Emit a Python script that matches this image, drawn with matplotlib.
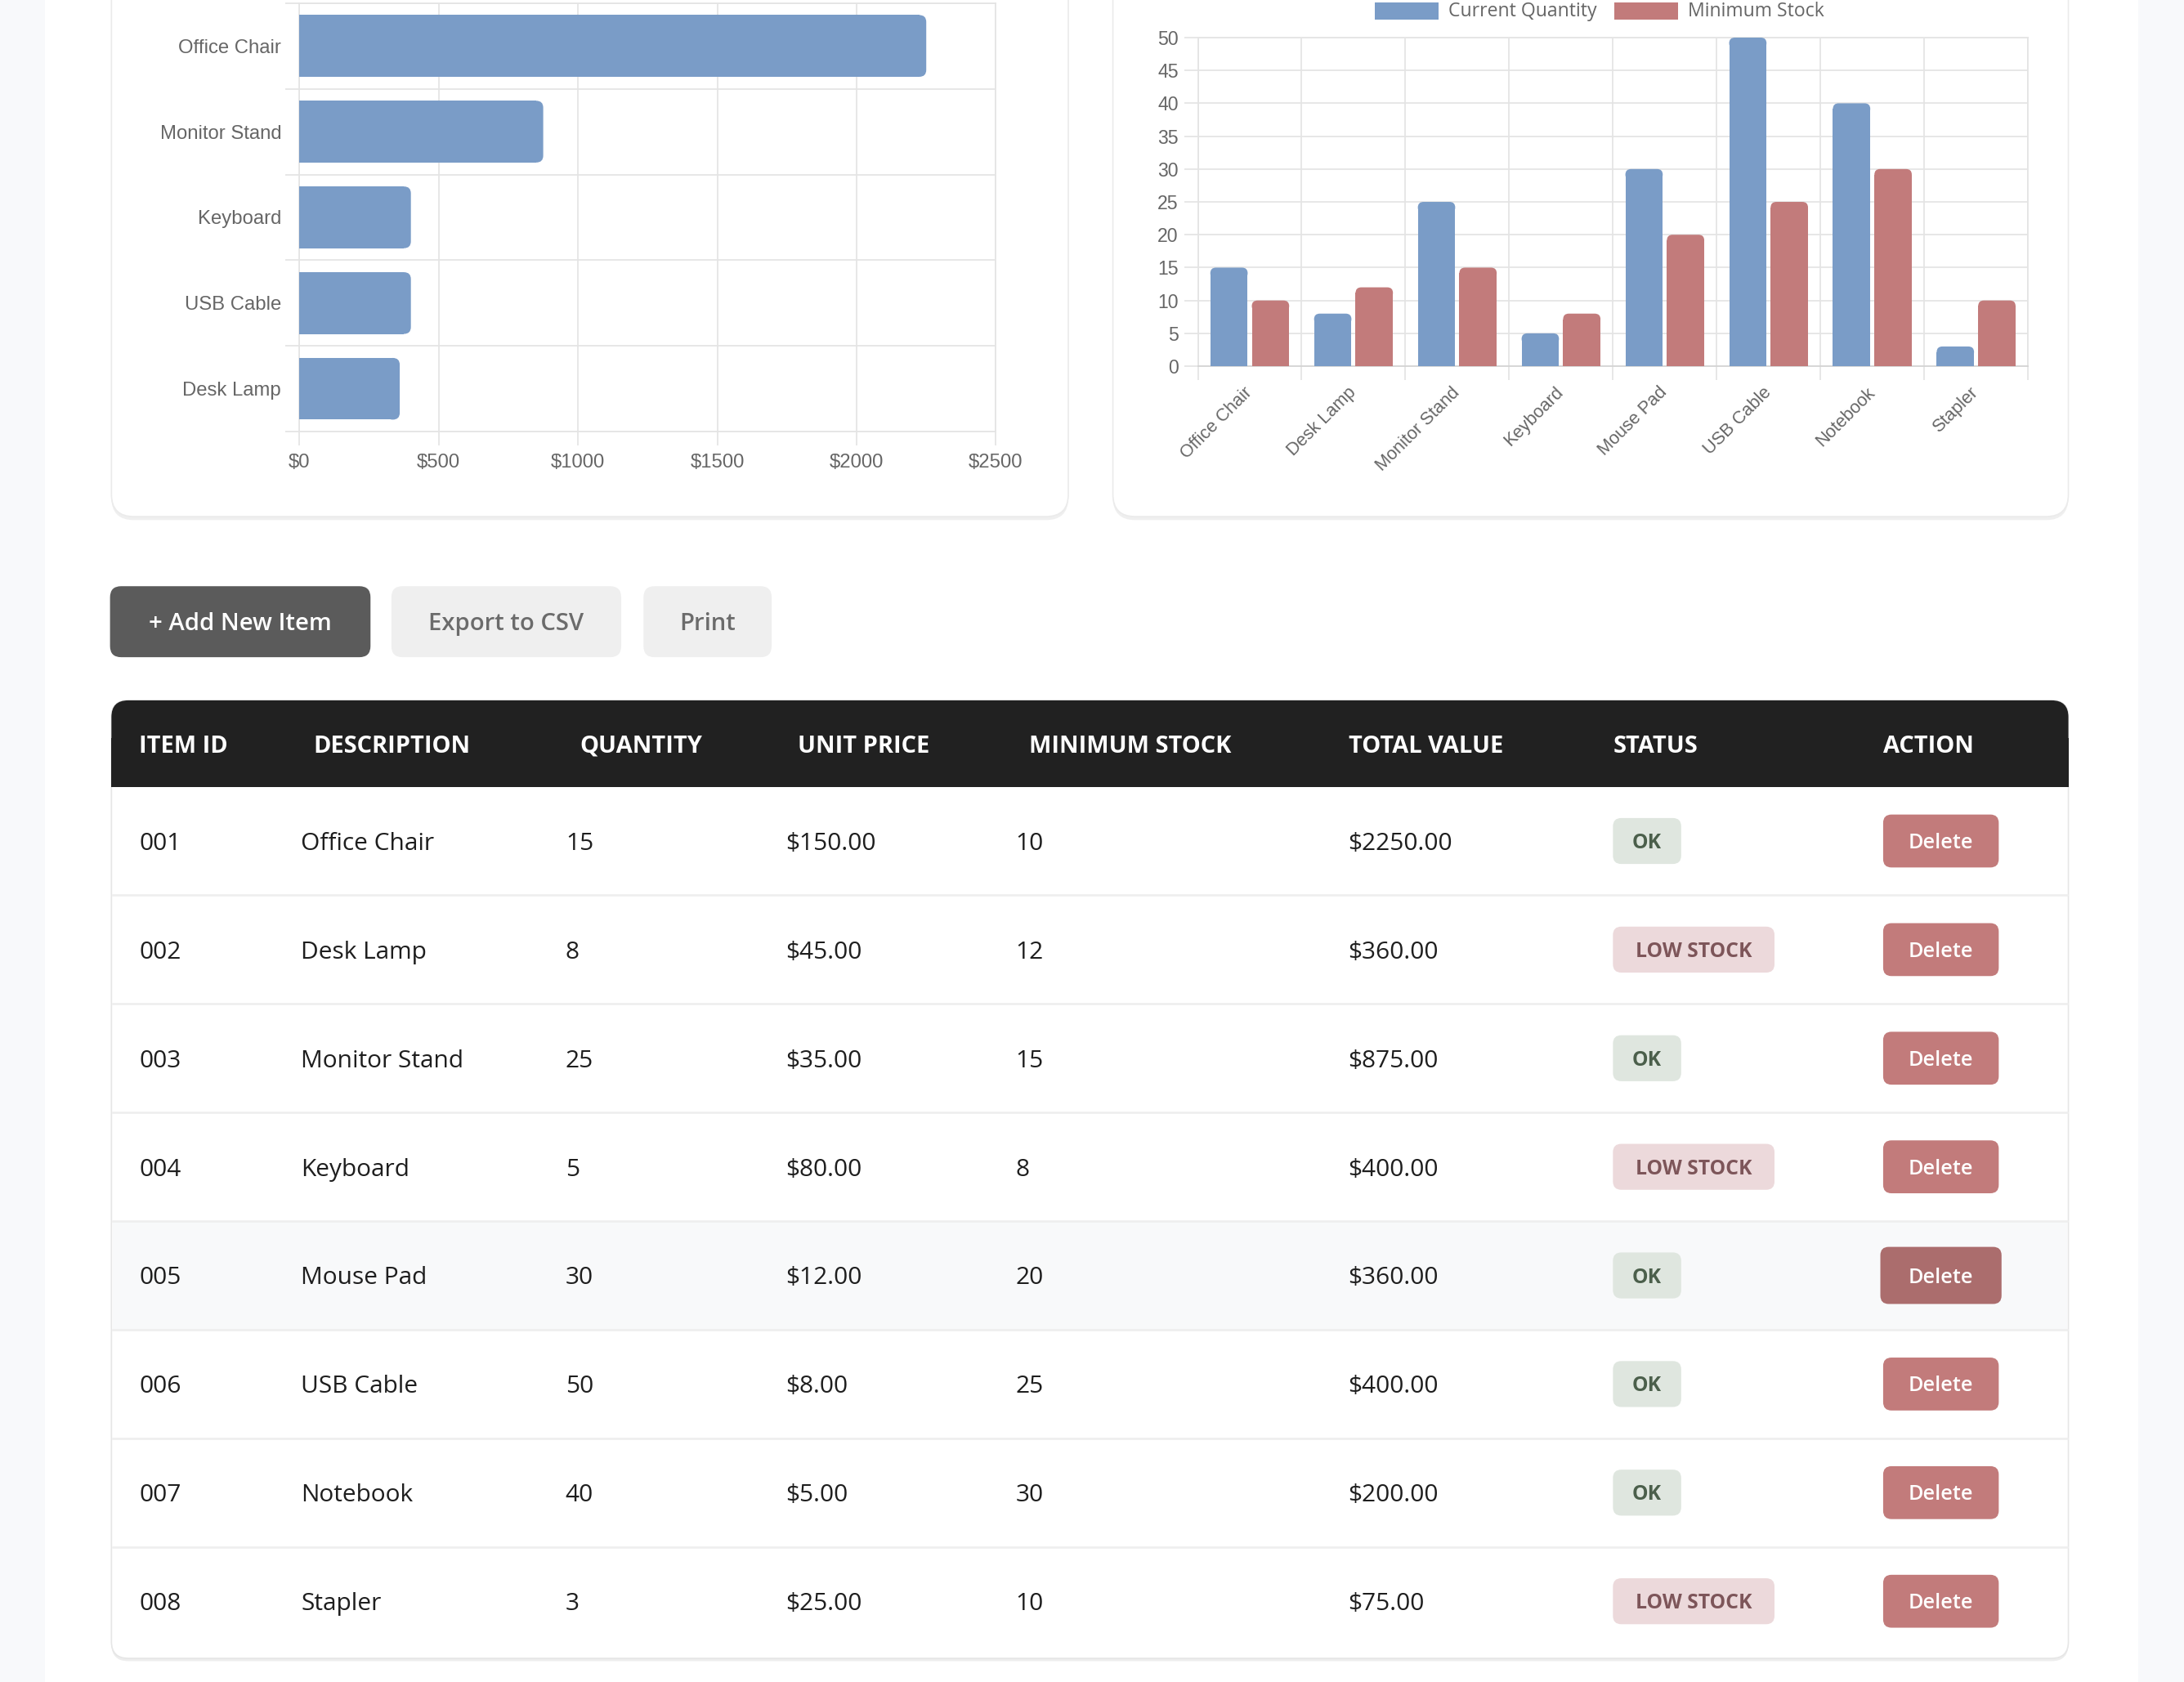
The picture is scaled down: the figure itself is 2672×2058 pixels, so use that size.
import numpy as np
import matplotlib
matplotlib.use("Agg")
import matplotlib.pyplot as plt
from matplotlib.patches import FancyBboxPatch, Rectangle

# top items by total value (horizontal chart)
top_items = ["Office Chair", "Monitor Stand", "Keyboard", "USB Cable", "Desk Lamp"]
top_values = [2250, 875, 400, 400, 360]
value_ticks = [0, 500, 1000, 1500, 2000, 2500]

# stock levels (grouped chart)
stock_items = ["Office Chair", "Desk Lamp", "Monitor Stand", "Keyboard",
               "Mouse Pad", "USB Cable", "Notebook", "Stapler"]
current_qty = [15, 8, 25, 5, 30, 50, 40, 3]
minimum_stock = [10, 12, 15, 8, 20, 25, 30, 10]
series_names = ["Current Quantity", "Minimum Stock"]

# table
headers = ["ITEM ID", "DESCRIPTION", "QUANTITY", "UNIT PRICE",
           "MINIMUM STOCK", "TOTAL VALUE", "STATUS", "ACTION"]
item_ids = ["001", "002", "003", "004", "005", "006", "007", "008"]
unit_prices = ["$150.00", "$45.00", "$35.00", "$80.00", "$12.00", "$8.00", "$5.00", "$25.00"]
total_values = ["$2250.00", "$360.00", "$875.00", "$400.00", "$360.00", "$400.00", "$200.00", "$75.00"]
statuses = ["OK", "LOW STOCK", "OK", "LOW STOCK", "OK", "OK", "OK", "LOW STOCK"]
buttons = ["+ Add New Item", "Export to CSV", "Print"]

BLUE = "#7a9cc7"
RED = "#c27b7b"
GRID = "#e4e4e4"
TICK = "#666666"
UI_FONT = ["Open Sans", "DejaVu Sans"]
CHART_FONT = ["Liberation Sans", "DejaVu Sans"]

W, H = 1568, 1208  # layout units (reference scaled down)
SCALE = 2672 / W


def pt(px):
    # layout pixels -> points at dpi 100
    return px * SCALE * 0.72


fig = plt.figure(figsize=(26.72, 20.58), dpi=100)
bg = fig.add_axes([0, 0, 1, 1])
bg.set_xlim(0, W)
bg.set_ylim(H, 0)
bg.axis("off")


def box(x0, y0, x1, y1, r, fc, ec="none", lw=0, z=1):
    p = FancyBboxPatch((x0, y0), x1 - x0, y1 - y0,
                       boxstyle=f"round,pad=0,rounding_size={r}",
                       fc=fc, ec=ec, lw=lw, zorder=z)
    bg.add_patch(p)


def axes_at(x0, y0, x1, y1):
    return fig.add_axes([x0 / W, 1 - y1 / H, (x1 - x0) / W, (y1 - y0) / H])


# page background
bg.add_patch(Rectangle((0, 0), W, H, fc="#f8f9fb", zorder=0))
bg.add_patch(Rectangle((32, 0), 1503, H, fc="white", zorder=0))

# chart cards
for x0, x1 in [(80, 767), (799, 1485)]:
    box(x0, -40, x1, 373.5, 16, "#efefef", z=1)
    box(x0, -40, x1, 371, 16, "white", ec="#ebebeb", lw=1.2, z=2)

# ---- horizontal bar chart ----
ax1 = axes_at(215, 2.2, 715, 310)
ax1.set_facecolor("none")
ypos = np.arange(len(top_items))
hbars = ax1.barh(ypos, top_values, height=0.72, color=BLUE, zorder=3)
ax1.set_xlim(0, 2500)
ax1.set_ylim(len(top_items) - 0.5, -0.5)
rx, ry = 25, 0.08
for b in hbars:
    x, y, w, h = b.get_x(), b.get_y(), b.get_width(), b.get_height()
    b.set_width(w - rx)
    ax1.add_patch(FancyBboxPatch((x + w - 2 * rx, y), 2 * rx, h,
                                 boxstyle=f"round,pad=0,rounding_size={rx}",
                                 mutation_aspect=ry / rx, fc=BLUE, ec="none", zorder=3))
ax1.set_xticks(value_ticks)
ax1.set_xticklabels([f"${v}" for v in value_ticks], fontfamily=CHART_FONT)
ax1.set_yticks(ypos)
ax1.set_yticklabels(top_items, fontfamily=CHART_FONT)
ax1.set_yticks(np.arange(-0.5, len(top_items), 1), minor=True)
ax1.grid(axis="x", which="major", color=GRID, lw=pt(1))
ax1.grid(axis="y", which="minor", color=GRID, lw=pt(1))
ax1.tick_params(axis="y", which="major", length=0, pad=pt(13),
                labelsize=pt(14), labelcolor=TICK)
ax1.tick_params(axis="y", which="minor", length=pt(10), width=pt(1), color=GRID)
ax1.tick_params(axis="x", length=pt(10), width=pt(1), color=GRID, pad=pt(6),
                labelsize=pt(14), labelcolor=TICK)
for s in ax1.spines.values():
    s.set_color(GRID)
    s.set_linewidth(pt(1))
ax1.set_axisbelow(True)

# ---- grouped bar chart ----
ax2 = axes_at(860, 27, 1456, 263)
ax2.set_facecolor("none")
xpos = np.arange(len(stock_items))
b_cur = ax2.bar(xpos - 0.2, current_qty, 0.36, color=BLUE, zorder=3)
b_min = ax2.bar(xpos + 0.2, minimum_stock, 0.36, color=RED, zorder=3)
ax2.set_xlim(-0.5, len(stock_items) - 0.5)
ax2.set_ylim(0, 50)
rx2, ry2 = 0.055, 0.85
for cont, col in [(b_cur, BLUE), (b_min, RED)]:
    for b in cont:
        x, y, w, h = b.get_x(), b.get_y(), b.get_width(), b.get_height()
        b.set_height(h - ry2)
        ax2.add_patch(FancyBboxPatch((x, y + h - 2 * ry2), w, 2 * ry2,
                                     boxstyle=f"round,pad=0,rounding_size={rx2}",
                                     mutation_aspect=ry2 / rx2, fc=col, ec="none", zorder=3))
ax2.set_yticks(range(0, 51, 5))
ax2.set_yticklabels([str(v) for v in range(0, 51, 5)], fontfamily=CHART_FONT)
ax2.set_xticks(xpos)
ax2.set_xticklabels(stock_items, fontfamily=CHART_FONT, rotation=45,
                    ha="right", va="center", rotation_mode="anchor")
ax2.set_xticks(np.arange(-0.5, len(stock_items), 1), minor=True)
ax2.grid(axis="y", which="major", color=GRID, lw=pt(1))
ax2.grid(axis="x", which="minor", color=GRID, lw=pt(1))
ax2.tick_params(axis="y", length=pt(10), width=pt(1), color=GRID, pad=pt(4),
                labelsize=pt(13.5), labelcolor=TICK)
ax2.tick_params(axis="x", which="major", length=0, pad=pt(17),
                labelsize=pt(12.8), labelcolor=TICK)
ax2.tick_params(axis="x", which="minor", length=pt(10), width=pt(1), color=GRID)
for s in ax2.spines.values():
    s.set_color(GRID)
    s.set_linewidth(pt(1))
ax2.spines["bottom"].set_color("#d2d2d2")
ax2.set_axisbelow(True)

# legend
for (bx, tx), name, col in zip([(987, 1040), (1159, 1212)], series_names, [BLUE, RED]):
    bg.add_patch(Rectangle((bx, 2), 46, 12, fc=col, zorder=3))
    bg.text(tx, 8.5, name, fontsize=pt(13.5), color=TICK, family=UI_FONT,
            va="center", ha="left", zorder=4)

# ---- buttons ----
btn_spans = [(79, 266), (281, 446), (462, 554)]
btn_styles = [("#5b5b5b", "white"), ("#efefef", "#6b6b6b"), ("#efefef", "#6b6b6b")]
for label, (x0, x1), (fc, tc) in zip(buttons, btn_spans, btn_styles):
    box(x0, 421, x1, 472, 8, fc, z=2)
    bg.text((x0 + x1) / 2, 448, label, fontsize=pt(17.2), color=tc, family=UI_FONT,
            weight="semibold", ha="center", va="center", zorder=3)

# ---- table ----
box(80, 503, 1485, 1193, 12, "#ededed", z=1)
box(80, 503, 1485, 1191, 12, "white", ec="#e6e6e6", lw=1.2, z=2)
box(80, 503, 1485, 565, 12, "#212121", z=3)
bg.add_patch(Rectangle((80, 530), 1405, 35, fc="#212121", zorder=3))

header_x = [100, 225, 416, 573, 739, 968, 1158, 1352]
cell_x = [100, 216, 406, 564, 729, 968]
for hx, htext in zip(header_x, headers):
    bg.text(hx, 536, htext, fontsize=pt(17), color="white", family=UI_FONT,
            weight="bold", ha="left", va="center", zorder=4)

row_h = 78
hover_row = 4
for i in range(len(item_ids)):
    top = 565 + row_h * i
    yc = top + row_h / 2
    if i == hover_row:
        bg.add_patch(Rectangle((81, top), 1403, row_h, fc="#f8f9fa", zorder=2.5))
    if i < len(item_ids) - 1:
        bg.plot([81, 1484], [top + row_h, top + row_h], color="#eeeeee", lw=pt(1.5), zorder=3)
    cells = [item_ids[i], stock_items[i], str(current_qty[i]), unit_prices[i],
             str(minimum_stock[i]), total_values[i]]
    for cx, ctext in zip(cell_x, cells):
        bg.text(cx, yc + 2, ctext, fontsize=pt(17.5), color="#1e1e1e", family=UI_FONT,
                weight="medium", ha="left", va="center", zorder=4)
    # status badge
    st = statuses[i]
    if st == "OK":
        bw, bfc, btc = 49, "#dfe6df", "#4b5f4b"
    else:
        bw, bfc, btc = 116, "#ecd9db", "#7d5559"
    box(1158, yc - 16.5, 1158 + bw, yc + 16.5, 6, bfc, z=3)
    bg.text(1158 + bw / 2, yc + 1.5, st, fontsize=pt(14.5), color=btc, family=UI_FONT,
            weight="bold", ha="center", va="center", zorder=4)
    # delete button
    if i == hover_row:
        box(1350, yc - 20.5, 1437, yc + 20.5, 6, "#ab6d6d", z=3)
    else:
        box(1352, yc - 19, 1435, yc + 19, 6, "#c27b7b", z=3)
    bg.text(1393.5, yc + 1.5, "Delete", fontsize=pt(14.8), color="white", family=UI_FONT,
            weight="semibold", ha="center", va="center", zorder=4)

fig.savefig("out.png", dpi=100)
